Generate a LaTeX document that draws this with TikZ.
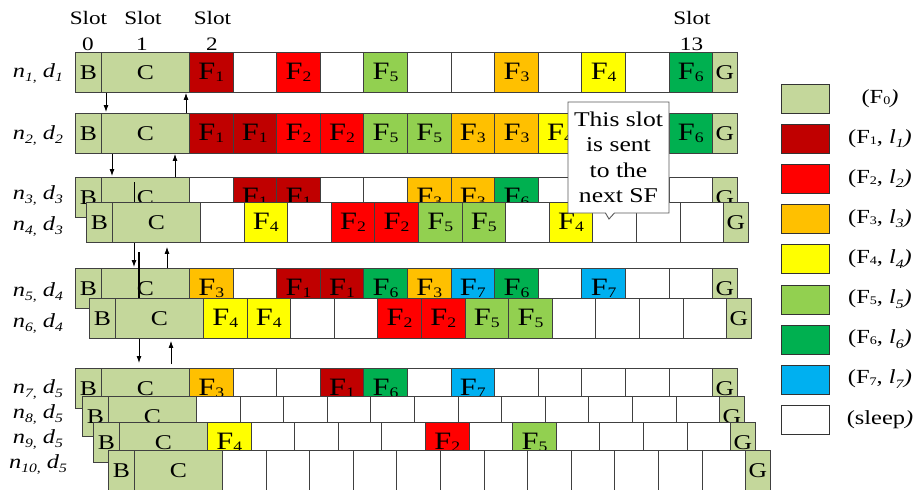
\documentclass[tikz,border=0pt]{standalone}
\usepackage{fontspec}
\setmainfont{Liberation Serif}[FakeStretch=1.22]
\usepackage{graphicx}
\usetikzlibrary{arrows.meta,shapes.callouts}
\definecolor{f0}{HTML}{C4D79B}
\definecolor{f1}{HTML}{C00000}
\definecolor{f2}{HTML}{FF0000}
\definecolor{f3}{HTML}{FFC000}
\definecolor{f4}{HTML}{FFFF00}
\definecolor{f5}{HTML}{92D050}
\definecolor{f6}{HTML}{00B050}
\definecolor{f7}{HTML}{00B0F0}
\newcommand{\fsub}[1]{\raisebox{-0.06em}{\scalebox{0.58}{#1}}}
\newcommand{\isub}[1]{\raisebox{-0.22em}{\scalebox{0.64}{\textit{#1}}}}
\tikzset{
  cell/.style={draw=black!75,line width=0.9pt,fill=white,anchor=north west,inner sep=0pt,
    minimum width=43.6pt,minimum height=40pt,font=\fontsize{21}{25}\selectfont},
  ftxt/.style={font=\fontsize{25}{29}\selectfont},
  txt/.style={font=\fontsize{20}{24}\selectfont,inner sep=0pt},
  hdr/.style={txt,anchor=base,font=\fontsize{19}{22}\selectfont},
  sig/.style={-{Latex[length=7pt,width=5pt]},line width=0.9pt},
  legbox/.style={draw=black!80,line width=0.9pt,anchor=north west,inner sep=0pt,
    minimum width=48pt,minimum height=29pt}
}
\newcommand{\slotrow}[4]{% <name> <dx> <top> <slots 2..13, 0 = sleep>
  \begin{scope}[shift={(#2,#3)}]
    \node[cell,fill=f0,minimum width=26pt] (#1B) at (75,0) {B};
    \node[cell,fill=f0,minimum width=88pt] (#1C) at (101,0) {C};
    \foreach \c [count=\i from 2] in {#4} {
      \ifnum\c=0 \node[cell] (#1s\i) at ({189+(\i-2)*43.6},0) {};
      \else \node[cell,fill=f\c,ftxt] (#1s\i) at ({189+(\i-2)*43.6},0) {F\fsub{\c}};\fi}
    \node[cell,fill=f0,minimum width=25pt] (#1G) at (712,0) {G};
  \end{scope}}

\begin{document}
\begin{tikzpicture}[x=1pt,y=-1pt]
  \useasboundingbox (0,0) rectangle (919,490);
  % slot numbers
  \node[hdr] (h0) at (88.5,24) {Slot};
  \node[hdr] (n0) at (88,50) {0};
  \node[hdr] (h1) at (143,24) {Slot};
  \node[hdr] (n1) at (142,50) {1};
  \node[hdr] (h2) at (212.5,24) {Slot};
  \node[hdr] (n2) at (212,50) {2};
  \node[hdr] (h13) at (692,24) {Slot};
  \node[hdr] (n13) at (691.5,50) {13};
  % rows
  \slotrow{r1}{0}{52}{1,0,2,0,5,0,0,3,0,4,0,6}
  \slotrow{r2}{0}{113}{1,1,2,2,5,5,3,3,4,0,0,6}
  \slotrow{r3}{0}{177}{0,1,1,0,0,3,3,6,0,0,0,0}
  \draw[line width=1pt] (134,182) -- (134,202);
  \slotrow{r4}{11}{202}{0,4,0,2,2,5,5,0,4,0,0,0}
  \slotrow{r5}{0}{268}{3,0,1,1,6,3,7,6,0,7,0,0}
  \draw[line width=1.3pt] (139,252) -- (139,298);
  \slotrow{r6}{14}{298}{4,4,0,0,2,2,5,5,0,0,0,0}
  \slotrow{r7}{0}{368}{3,0,0,1,6,0,7,0,0,0,0,0}
  \slotrow{r8}{7}{396}{0,0,0,0,0,0,0,0,0,0,0,0}
  \slotrow{r9}{18}{422}{4,0,0,0,0,2,0,5,0,0,0,0}
  \slotrow{r10}{33}{450}{0,0,0,0,0,0,0,0,0,0,0,0}
  % row labels
  \foreach \k/\d/\y in {1/1/77,2/2/139,3/3/199,4/3/230,5/4/296,6/4/327,7/5/393,8/5/418,9/5/443,10/5/468}
    \node[txt,anchor=base] (lab\k) at (38,\y) {\textit{n}\isub{\k,} \textit{d}\isub{\d}};
  % signalling between rows
  \draw[sig,shorten >=1pt] (r1C.south -| 106,0) -- (r2C.north -| 106,0);
  \draw[sig] (r2C.north -| 186,0) -- (r1C.south -| 186,0);
  \draw[sig,shorten >=1pt] (r2C.south -| 112,0) -- (r3C.north -| 112,0);
  \draw[sig] (r3C.north -| 175,0) -- (r2C.south -| 175,0);
  \draw[sig,shorten >=1pt] (r4C.south -| 134,0) -- (r5C.north -| 134,0);
  \draw[sig,shorten >=4pt] (r5C.north -| 167,0) -- (r4C.south -| 167,0);
  \draw[sig,shorten >=5pt] (r6C.south -| 139,0) -- (r7C.north -| 139,0);
  \draw[sig,shorten <=4pt,shorten >=2pt] (r7C.north -| 171,0) -- (r6C.south -| 171,0);
  % note
  \node[rectangle callout,draw=black!65,line width=0.9pt,fill=white,minimum width=101pt,
    minimum height=111pt,inner sep=0pt,align=center,callout absolute pointer={(609,219)},
    callout pointer width=9pt,font=\fontsize{21}{25.5}\selectfont] (note) at (618.5,157.5)
    {This slot\\is sent\\to the\\next SF};
  % legend
  \node[legbox,fill=f0] (key0) at (781,84) {};
  \node[txt] (txt0) at (880,98.5) {(F\fsub{0}\textit{)}};
  \foreach \k in {1,...,7} {
    \node[legbox,fill=f\k] (key\k) at (781,{84+\k*40.1}) {};
    \node[txt] (txt\k) at (880,{98.5+\k*40.1}) {(F\fsub{\k}, \textit{l}\isub{\k}\textit{)}};
  }
  \node[legbox,fill=white] (key8) at (781,404.8) {};
  \node[txt] (txt8) at (880,419.3) {(sleep\textit{)}};
\end{tikzpicture}
\end{document}
